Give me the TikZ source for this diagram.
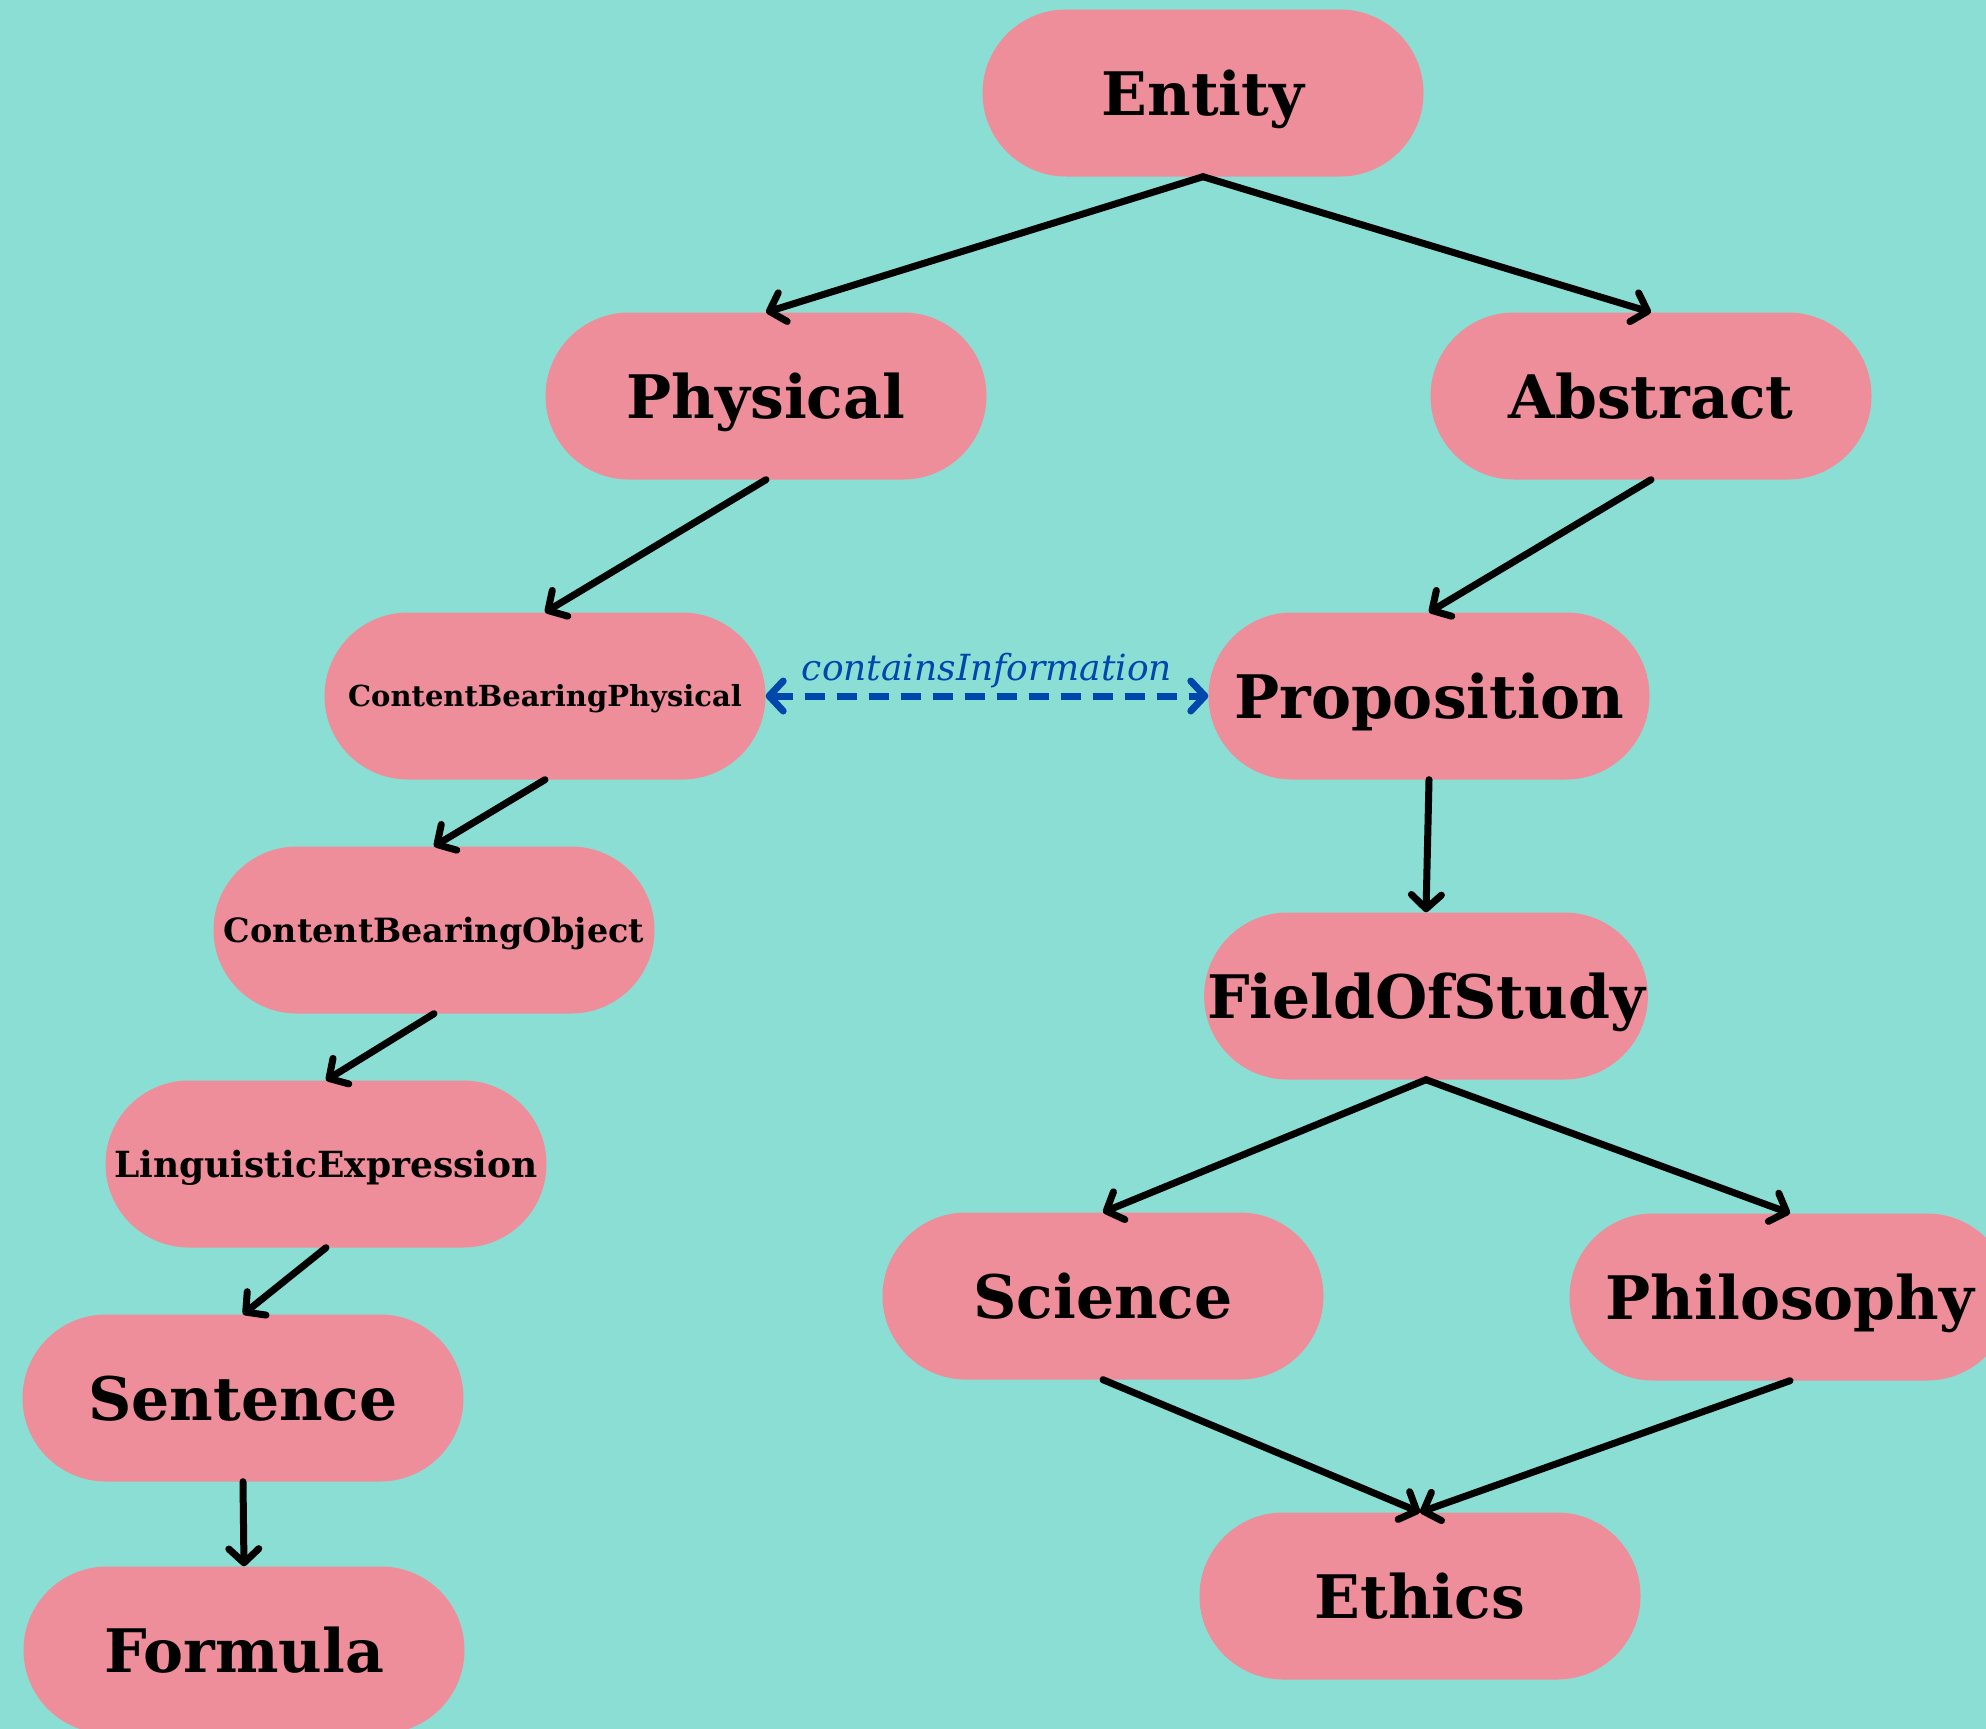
\documentclass[tikz,border=0pt]{standalone}
\usepackage{fontspec}
\setmainfont{DejaVu Serif}
\usetikzlibrary{shapes.misc,arrows.meta}
\definecolor{bgc}{HTML}{8BDED4}
\definecolor{pinkc}{HTML}{EF8E9B}
\definecolor{bluec}{HTML}{0047AB}
\tikzset{
  concept/.style={rounded rectangle, fill=pinkc, minimum width=441pt, minimum height=167pt, inner sep=0pt, text height=44pt, text depth=0pt, font=\bfseries\fontsize{60}{66}\selectfont},
  smallconcept/.style 2 args={concept, text height=#2, font=\bfseries\fontsize{#1}{#1}\selectfont},
  isa/.style={line width=7pt, black, line cap=round, -{Straight Barb[length=14pt,width=30pt,line cap=round,line join=round]}},
  relation/.style={line width=7pt, bluec, dash pattern=on 20pt off 12pt, {Straight Barb[length=14pt,width=30pt,line cap=round,line join=round]}-{Straight Barb[length=14pt,width=30pt,line cap=round,line join=round]}},
  rellabel/.style={text=bluec, font=\itshape\fontsize{36}{40}\selectfont, anchor=base}
}
\begin{document}
\begin{tikzpicture}[x=1pt,y=-1pt]
\useasboundingbox (0,0) rectangle (1986,1729);
\fill[bgc] (0,0) rectangle (1986,1729);
\node[concept] (entity) at (1203,93) {Entity};
\node[concept] (physical) at (766,396) {Physical};
\node[concept] (abstract) at (1651,396) {Abstract};
\node[smallconcept={29}{21pt}] (cbp) at (545,696) {ContentBearingPhysical};
\node[concept] (prop) at (1429,696) {Proposition};
\node[smallconcept={33.4}{24pt}] (cbo) at (434,930) {ContentBearingObject};
\node[smallconcept={36}{26pt}] (ling) at (326,1164) {LinguisticExpression};
\node[concept] (field) at (1426,996) {FieldOfStudy};
\node[concept] (science) at (1103,1296) {Science};
\node[concept] (philo) at (1790,1297) {Philosophy};
\node[concept] (sentence) at (243,1398) {Sentence};
\node[concept] (formula) at (244,1650) {Formula};
\node[concept] (ethics) at (1420,1596) {Ethics};
\draw[isa] (entity.south) -- (physical.north);
\draw[isa] (entity.south) -- (abstract.north);
\draw[isa] (physical.south) -- (cbp.north);
\draw[isa] (abstract.south) -- (prop.north);
\draw[isa] (cbp.south) -- (cbo.north);
\draw[isa] (cbo.south) -- (ling.north);
\draw[isa] (ling.south) -- (sentence.north);
\draw[isa] (sentence.south) -- (formula.north);
\draw[isa] (prop.south) -- (field.north);
\draw[isa] (field.south) -- (science.north);
\draw[isa] (field.south) -- (philo.north);
\draw[isa] (science.south) -- (ethics.north);
\draw[isa] (philo.south) -- (ethics.north);
\draw[relation] (cbp.east) -- (prop.west) node[rellabel, midway, yshift=16pt] {containsInformation};
\end{tikzpicture}
\end{document}
